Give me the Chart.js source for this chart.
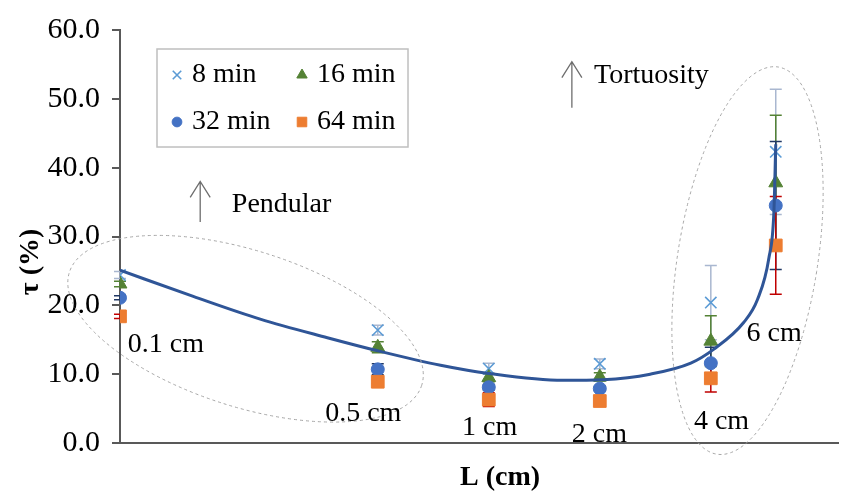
<!DOCTYPE HTML>
<html>
<head>
  <title>Tortuosity</title>
  <script src="https://cdn.jsdelivr.net/npm/chart.js"></script>
  <style>
    html, body { margin: 0; padding: 0; background: #ffffff; }
    .chart-container { position: relative; width: 848px; height: 495px; }
  </style>
</head>
<body>
  <div class="chart-container">
    <canvas id="tauChart"></canvas>
  </div>

  <script type="text/javascript">
    // ---- values ----
    var xvarL = [0.1, 0.5, 1, 2, 4, 6];              // L (cm), log axis
    var xMin = 0.1, xMax = 8.85;                     // axis is cut at the right edge

    var yvar8  = [24.4, 16.4, 10.8, 11.5, 20.4, 42.3];
    var err8   = [0.5, 0.7, 0.8, 0.7, 5.4, 9.1];
    var yvar16 = [23.1, 13.9, 9.5, 9.6, 14.8, 37.8];
    var err16  = [0.4, 0.8, 0.6, 0.6, 3.7, 9.8];
    var yvar32 = [21.1, 10.7, 8.1, 7.9, 11.6, 34.5];
    var err32  = [0.3, 0.8, 0.4, 0.3, 2.3, 9.3];
    var yvar64 = [18.4, 8.9, 6.3, 6.1, 9.4, 28.7];
    var err64  = [0.3, 0.3, 1.0, 0.3, 2.0, 7.1];

    // fitted curve, points
    var xvarFit = [0.1, 0.158, 0.24, 0.365, 0.5, 0.74, 1.0, 1.59, 2.04, 2.74, 3.53, 4.07, 4.91, 5.35, 5.75, 5.93, 6.0];
    var yvarFit = [25.1, 21.3, 18.0, 15.3, 13.4, 11.3, 10.1, 9.1, 9.2, 10.0, 11.6, 13.6, 17.5, 20.8, 26.9, 33.5, 43.4];

    var seriesNames = ['8 min', '16 min', '32 min', '64 min'];
    var yTicks = [0, 10, 20, 30, 40, 50, 60];

    // annotation texts (left edge L, centre tau)
    var noteText = ['0.1 cm', '0.5 cm', '1 cm', '2 cm', '4 cm', '6 cm', 'Pendular', 'Tortuosity'];
    var noteL    = [0.105, 0.36, 0.846, 1.68, 3.6, 5.0, 0.201, 1.93];
    var noteY    = [14.3, 4.3, 2.2, 1.2, 3.1, 15.9, 34.7, 53.3];

    // arrows: L, tau from, tau to
    var arrowL    = [0.165, 1.68];
    var arrowFrom = [32.1, 48.7];
    var arrowTo   = [38.0, 55.4];

    // dashed groups: centre L, centre tau
    var groupL = [0.219, 5.03];
    var groupY = [16.6, 26.5];

    var chartColors = { x8: '#5B9BD5', t16: '#548235', c32: '#4472C4', s64: '#ED7D31', fit: '#2F5597', axis: '#595959' };
    var errColors = ['#A9B7D0', '#548235', '#203864', '#C00000'];
    var serifFont = "'Liberation Serif', 'Times New Roman', serif";

    function pts(xs, ys) {
      var out = [];
      for (let i = 0; i < xs.length; i++) out.push({ x: xs[i], y: ys[i] });
      return out;
    }

    var errList = [err8, err16, err32, err64];

    // error bars under the markers
    const errorBarPlugin = {
      id: 'errorBars',
      beforeDatasetsDraw(chart) {
        const ctx = chart.ctx, xs = chart.scales.x, ys = chart.scales.y;
        ctx.save();
        ctx.lineWidth = 1.5;
        for (let s = 0; s < 4; s++) {
          const ds = chart.data.datasets[s];
          ctx.strokeStyle = errColors[s];
          for (let i = 0; i < ds.data.length; i++) {
            const px = xs.getPixelForValue(ds.data[i].x);
            const top = ys.getPixelForValue(ds.data[i].y + errList[s][i]);
            const bot = ys.getPixelForValue(ds.data[i].y - errList[s][i]);
            ctx.beginPath();
            ctx.moveTo(px, top); ctx.lineTo(px, bot);
            ctx.moveTo(px - 6, top); ctx.lineTo(px + 6, top);
            ctx.moveTo(px - 6, bot); ctx.lineTo(px + 6, bot);
            ctx.stroke();
          }
        }
        ctx.restore();
      }
    };

    // texts, arrows, dashed ellipses, axis titles and the legend box
    const notesPlugin = {
      id: 'notes',
      afterDatasetsDraw(chart) {
        const ctx = chart.ctx, xs = chart.scales.x, ys = chart.scales.y;
        ctx.save();

        ctx.strokeStyle = '#A6A6A6';
        ctx.lineWidth = 1;
        ctx.setLineDash([3, 3]);
        const radii = [[185, 78, 17.8], [70, 196, 9]];
        for (let g = 0; g < groupL.length; g++) {
          ctx.beginPath();
          ctx.ellipse(xs.getPixelForValue(groupL[g]), ys.getPixelForValue(groupY[g]),
            radii[g][0], radii[g][1], radii[g][2] * Math.PI / 180, 0, 2 * Math.PI);
          ctx.stroke();
        }
        ctx.setLineDash([]);

        ctx.strokeStyle = '#6E6E6E';
        ctx.lineWidth = 1.3;
        for (let a = 0; a < arrowL.length; a++) {
          const ax = xs.getPixelForValue(arrowL[a]);
          const y0 = ys.getPixelForValue(arrowFrom[a]);
          const y1 = ys.getPixelForValue(arrowTo[a]);
          ctx.beginPath();
          ctx.moveTo(ax, y0); ctx.lineTo(ax, y1);
          ctx.moveTo(ax - 10, y1 + 16); ctx.lineTo(ax, y1); ctx.lineTo(ax + 10, y1 + 16);
          ctx.stroke();
        }

        ctx.fillStyle = '#000000';
        ctx.font = '28px ' + serifFont;
        ctx.textAlign = 'left';
        ctx.textBaseline = 'middle';
        for (let t = 0; t < noteText.length; t++) {
          ctx.fillText(noteText[t], xs.getPixelForValue(noteL[t]), ys.getPixelForValue(noteY[t]));
        }

        // axis titles
        ctx.font = 'bold 28px ' + serifFont;
        ctx.textAlign = 'center';
        ctx.fillText('L (cm)', 500, 478);
        ctx.save();
        ctx.translate(31, 262);
        ctx.rotate(-Math.PI / 2);
        ctx.fillText('τ (%)', 0, 0);
        ctx.restore();

        // legend box
        ctx.font = '28px ' + serifFont;
        ctx.textAlign = 'left';
        const bx = 157, by = 49, bw = 251, bh = 98;
        ctx.fillStyle = '#ffffff';
        ctx.fillRect(bx, by, bw, bh);
        ctx.strokeStyle = '#BFBFBF';
        ctx.lineWidth = 1.5;
        ctx.strokeRect(bx, by, bw, bh);
        for (let s = 0; s < 4; s++) {
          const ds = chart.data.datasets[s];
          const mx = bx + 20 + (s % 2) * 125;
          const my = by + 26 + Math.floor(s / 2) * 47;
          ctx.fillStyle = ds.pointBackgroundColor;
          ctx.strokeStyle = ds.pointBorderColor;
          ctx.lineWidth = ds.pointBorderWidth;
          Chart.helpers.drawPoint(ctx, { pointStyle: ds.pointStyle, radius: ds.pointRadius * 0.75, rotation: 0, borderWidth: ds.pointBorderWidth }, mx, my);
          ctx.fillStyle = '#000000';
          ctx.fillText(seriesNames[s], mx + 15, my);
        }
        ctx.restore();
      }
    };

    function markerSet(label, xs, ys, style, color, radius, order) {
      return {
        label: label,
        data: pts(xs, ys),
        showLine: false,
        pointStyle: style,
        pointRadius: radius,
        pointBackgroundColor: color,
        pointBorderColor: color,
        pointBorderWidth: style === 'crossRot' ? 1.6 : 1,
        order: order
      };
    }

    const ctx_tau = document.getElementById('tauChart');
    var tauChart = new Chart(ctx_tau, {
      type: 'scatter',
      data: {
        datasets: [
          markerSet(seriesNames[0], xvarL, yvar8, 'crossRot', chartColors.x8, 8, 4),
          markerSet(seriesNames[1], xvarL, yvar16, 'triangle', chartColors.t16, 8, 3),
          markerSet(seriesNames[2], xvarL, yvar32, 'circle', chartColors.c32, 6.5, 2),
          markerSet(seriesNames[3], xvarL, yvar64, 'rect', chartColors.s64, 9, 1),
          {
            label: 'fit',
            data: pts(xvarFit, yvarFit),
            showLine: true,
            borderColor: chartColors.fit,
            borderWidth: 3,
            pointRadius: 0,
            cubicInterpolationMode: 'monotone',
            order: 0
          }
        ]
      },
      options: {
        responsive: true,
        maintainAspectRatio: false,
        animation: false,
        layout: { padding: { top: 20, right: 0, bottom: 0, left: 0 } },
        plugins: {
          legend: { display: false },
          tooltip: { enabled: false }
        },
        scales: {
          x: {
            type: 'logarithmic',
            min: xMin,
            max: xMax,
            ticks: { display: false },
            grid: { display: false },
            border: { display: true, color: chartColors.axis, width: 2 },
            afterFit: function (scale) { scale.height = 52; }
          },
          y: {
            min: yTicks[0],
            max: yTicks[yTicks.length - 1],
            ticks: {
              stepSize: 10,
              color: '#000000',
              padding: 12,
              font: { family: serifFont, size: 30 },
              callback: function (v) { return v.toFixed(1); }
            },
            grid: { drawOnChartArea: false, drawTicks: true, tickLength: 8, color: chartColors.axis, lineWidth: 2 },
            border: { display: true, color: chartColors.axis, width: 2 },
            afterFit: function (scale) { scale.width = 120; }
          }
        }
      },
      plugins: [errorBarPlugin, notesPlugin]
    });
  </script>
</body>
</html>
